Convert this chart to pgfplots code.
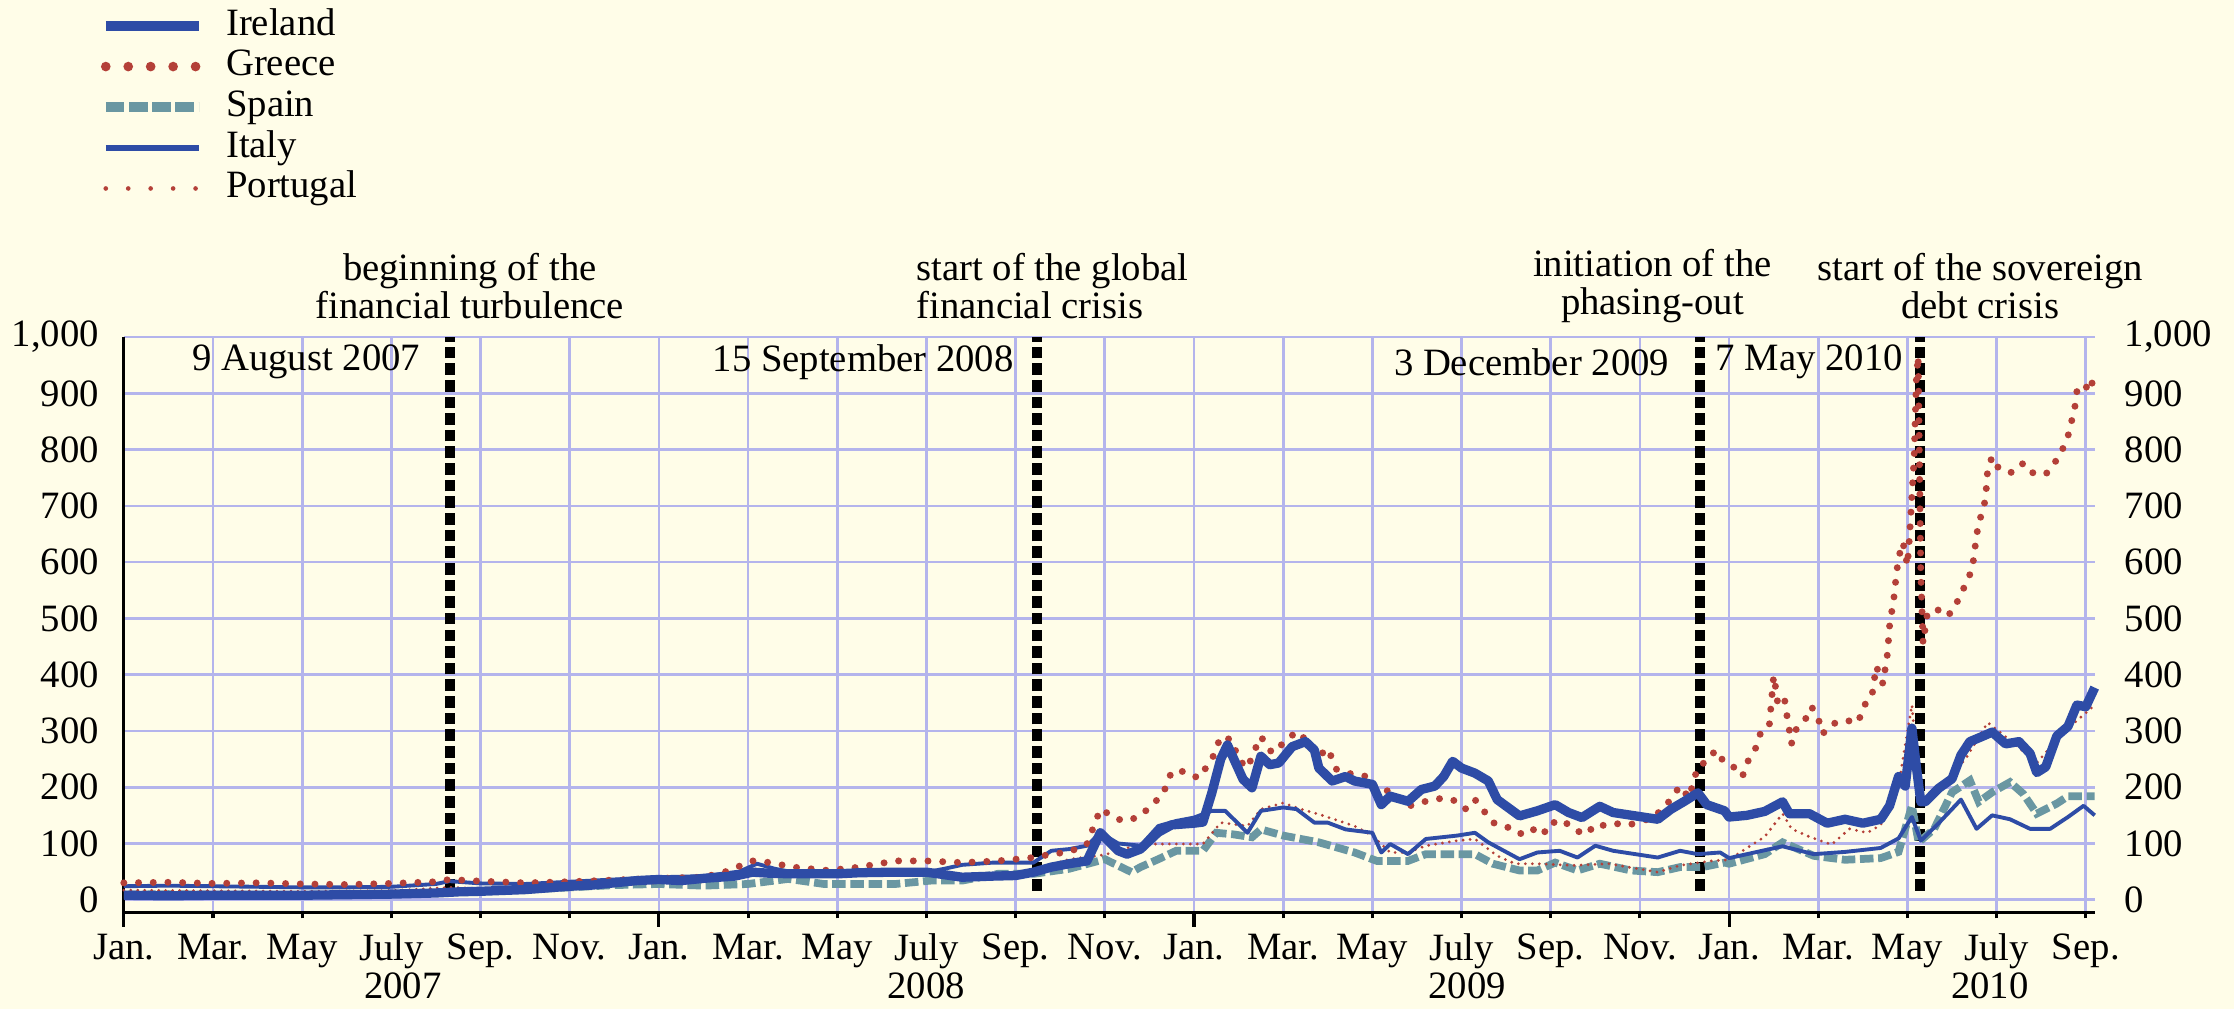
\documentclass[border=0pt]{standalone}
\usepackage{fontspec}
\setmainfont{Liberation Serif}
\usepackage{pgfplots}
\pgfplotsset{compat=1.18}
\definecolor{bgc}{RGB}{255,253,232}
\definecolor{gridc}{RGB}{180,180,236}
\definecolor{ireblue}{RGB}{46,76,166}
\definecolor{grered}{RGB}{180,64,56}
\definecolor{spateal}{RGB}{106,151,162}
\begin{document}
\begin{tikzpicture}
\fill[bgc] (0,0) rectangle (577.3pt,260.7pt);
\begin{axis}[
  at={(32pt,25pt)}, anchor=south west,
  scale only axis, width=509.3pt, height=148.6pt,
  xmin=0, xmax=44.2, ymin=-22, ymax=1000,
  clip=false,
  axis x line*=bottom, axis y line*=left,
  axis line style={black, line width=0.8pt, -},
  xtick={0,2,...,44},
  xticklabels={Jan.,Mar.,May,July,Sep.,Nov.,Jan.,Mar.,May,July,Sep.,Nov.,Jan.,Mar.,May,July,Sep.,Nov.,Jan.,Mar.,May,July,Sep.},
  extra x ticks={0,12,24,36},
  extra x tick labels={},
  extra x tick style={xmajorgrids=false, major tick length=3.8pt},
  xtick align=outside,
  major tick length=1.6pt,
  x tick style={black, line width=0.8pt},
  ytick={0,100,...,1000},
  y tick style={draw=none},
  grid=major,
  major grid style={gridc, line width=0.7pt},
  /pgf/number format/assume math mode=true,
  /pgf/number format/1000 sep={,},
  yticklabel style={xshift=-2.9pt},
  xticklabel style={yshift=-0.5pt},
  legend style={at={(axis description cs:-0.0121,1.572)}, anchor=north west, draw=none, fill=none, inner sep=0pt, row sep=1.7pt, column sep=5.8pt, nodes={inner sep=0pt, text height=6.8pt, text depth=2pt, anchor=west}},
  legend cell align=left,
  legend image code/.code={\draw[#1] (0pt,0pt) -- (24pt,0pt);},
]
\addlegendimage{ireblue, line width=2.6pt}
\addlegendentry{Ireland}
\addlegendimage{grered, line width=2.5pt, dash pattern=on 0pt off 5.8pt, line cap=round}
\addlegendentry{Greece}
\addlegendimage{spateal, line width=2.6pt, dash pattern=on 4.8pt off 1.2pt}
\addlegendentry{Spain}
\addlegendimage{ireblue, line width=1.4pt}
\addlegendentry{Italy}
\addlegendimage{grered, line width=1.2pt, dash pattern=on 0pt off 5.8pt, line cap=round}
\addlegendentry{Portugal}

% event lines
\addplot[forget plot, black, line width=2.6pt, dash pattern=on 3pt off 1.3pt] coordinates {(7.32,16) (7.32,1000)};
\addplot[forget plot, black, line width=2.6pt, dash pattern=on 3pt off 1.3pt] coordinates {(20.48,16) (20.48,1000)};
\addplot[forget plot, black, line width=2.6pt, dash pattern=on 3pt off 1.3pt] coordinates {(35.34,16) (35.34,1000)};
\addplot[forget plot, black, line width=2.6pt, dash pattern=on 3pt off 1.3pt] coordinates {(40.29,16) (40.29,1000)};

% Spain
\addplot[forget plot, spateal, line width=2pt, dash pattern=on 3.5pt off 1.2pt] coordinates {
(0,9) (1,10) (2,9) (3,9) (4,8) (5,9) (6,10) (7,12) (8,15) (9,18) (10,22) (11,26) (12,28) (13,25) (14,28) (14.9,37) (15.7,28) (17.3,28) (18.1,34) (18.8,34) (19.6,46) (20.4,46) (21.2,55) (22,72) (22.6,49) (22.8,58) (23.2,72) (23.6,87) (24.2,87) (24.5,119) (24.9,116) (25.3,111) (25.5,125) (26,114) (26.8,102) (27.6,84) (28.1,69) (28.8,69) (29.2,81) (29.9,81) (30.3,81) (30.7,64) (31.3,52) (31.7,52) (32.1,66) (32.6,52) (33.1,64) (33.8,52) (34.4,49) (34.9,58) (35.4,58) (35.9,66) (36.0,64) (36.8,81) (37.2,102) (37.9,78) (38.6,71) (39.4,74) (39.8,85) (40.1,167) (40.25,102) (40.6,126) (41.0,191) (41.4,212) (41.6,174) (41.9,191) (42.3,209) (42.6,188) (42.9,153) (43.35,171) (43.6,184) (44.2,184)};

% Portugal
\addplot[forget plot, grered, line width=0.8pt, dash pattern=on 0pt off 1.8pt, line cap=round] coordinates {
(0,17) (2,16) (4,15) (6,16) (7.3,22) (8,20) (10,22) (12,30) (13,32) (14.1,55) (15,45) (16,42) (17,45) (18,45) (19,44) (20,47) (20.4,52) (21.2,72) (22,80) (22.8,99) (23.5,99) (24.2,99) (24.6,137) (25.2,131) (25.5,161) (26.0,172) (26.4,161) (26.8,152) (27.6,131) (28.0,114) (28.4,84) (28.8,84) (29.2,96) (29.9,105) (30.3,108) (30.8,78) (31.2,64) (31.7,64) (32.5,61) (33.3,64) (34.4,49) (34.9,61) (35.6,69) (36.0,71) (36.4,92) (36.8,112) (37.2,153) (37.4,126) (37.8,112) (38.3,98) (38.7,126) (39.1,119) (39.4,133) (39.8,202) (40.1,346) (40.3,167) (40.7,195) (41.3,250) (41.8,315) (42.4,277) (42.9,243) (43.5,298) (44.0,332) (44.2,346)};

% Italy
\addplot[forget plot, ireblue, line width=1pt, line join=round] coordinates {
(0,24) (1,25) (2,24) (3,23) (4,22) (5,22) (6,23) (7,28) (7.3,33) (8,29) (9,28) (10,32) (11,36) (12,40) (13,42) (13.8,50) (14.2,64) (14.6,55) (15,49) (16,49) (17,49) (18,49) (18.4,55) (18.8,62) (19.5,66) (20.4,66) (20.8,87) (21.2,90) (21.6,96) (21.9,119) (22.3,100) (22.8,96) (23.2,131) (23.6,140) (24.0,146) (24.4,158) (24.7,158) (25.2,119) (25.5,158) (26.0,164) (26.3,161) (26.7,137) (27.0,137) (27.4,125) (28.0,119) (28.2,84) (28.4,99) (28.8,81) (29.2,108) (29.9,114) (30.3,119) (30.6,102) (31.3,72) (31.7,84) (32.2,87) (32.6,75) (33.0,96) (33.4,87) (34.4,75) (34.9,87) (35.3,81) (35.8,84) (36.0,74) (36.8,88) (37.2,95) (37.9,81) (38.6,85) (39.4,92) (39.8,109) (40.1,147) (40.3,105) (40.7,136) (41.2,178) (41.55,126) (41.9,150) (42.3,143) (42.75,126) (43.2,126) (43.6,147) (43.95,167) (44.2,150)};

% Greece
\addplot[forget plot, grered, line width=1.8pt, dash pattern=on 0pt off 3.8pt, line cap=round] coordinates {
(0,30) (1,31) (2,29) (3,30) (4,28) (5,27) (6,29) (7,32) (7.3,36) (8,33) (9,30) (10,32) (11,35) (12,38) (13,40) (13.5,50) (14.1,69) (14.5,66) (15,58) (15.8,52) (16.5,58) (17.3,69) (18,69) (18.8,66) (19.6,69) (20.4,75) (20.8,81) (21.2,85) (21.6,99) (21.9,161) (22.3,143) (22.5,140) (22.8,149) (23.1,172) (23.3,187) (23.5,228) (23.8,228) (24.1,216) (24.4,249) (24.6,290) (24.85,284) (25.0,249) (25.2,234) (25.35,264) (25.5,290) (25.75,261) (26.0,278) (26.3,299) (26.6,278) (26.8,255) (27.0,269) (27.2,231) (27.6,222) (27.9,219) (28.1,196) (28.4,193) (28.8,166) (29.2,175) (29.6,181) (29.9,175) (30.1,161) (30.3,178) (30.5,158) (30.7,137) (31.0,131) (31.2,119) (31.5,116) (31.7,131) (31.9,119) (32.1,140) (32.3,140) (32.5,125) (32.8,116) (33.0,134) (33.3,131) (33.6,137) (33.8,134) (34.3,146) (34.6,169) (34.9,202) (35.1,181) (35.3,237) (35.5,246) (35.7,266) (35.9,243) (36.1,236) (36.3,219) (36.4,243) (36.6,270) (36.7,295) (36.9,308) (37.0,398) (37.05,374) (37.1,343) (37.25,353) (37.3,326) (37.4,277) (37.45,298) (37.7,319) (37.85,343) (38.0,322) (38.1,295) (38.3,312) (38.6,319) (38.9,315) (39.0,343) (39.2,360) (39.3,415) (39.45,384) (39.55,436) (39.6,487) (39.7,539) (39.75,577) (39.8,608) (39.9,635) (40.0,594) (40.05,649) (40.15,787) (40.2,924) (40.24,966) (40.3,580) (40.35,456) (40.45,511) (40.7,515) (40.85,504) (41.0,511) (41.15,535) (41.3,560) (41.45,587) (41.5,615) (41.55,649) (41.65,683) (41.75,711) (41.8,766) (41.9,787) (42.05,766) (42.35,759) (42.6,776) (42.8,759) (43.1,756) (43.3,776) (43.5,804) (43.6,824) (43.75,873) (43.8,903) (43.95,917) (44.1,903) (44.2,941)};

% Ireland
\addplot[forget plot, ireblue, line width=2.4pt, line join=round] coordinates {
(0,8) (1,7) (2,8) (3,8) (4,8) (5,9) (6,10) (7,12) (7.5,14) (8,15) (9,18) (10,24) (10.5,26) (11,30) (11.5,34) (12,36) (12.5,34) (13,38) (13.7,42) (14.1,49) (14.5,47) (15,46) (16,46) (16.5,48) (17.3,49) (18,49) (18.8,40) (19.5,42) (20,43) (20.4,49) (20.8,58) (21.2,64) (21.6,69) (21.9,119) (22.3,87) (22.5,81) (22.8,90) (23.2,120) (23.5,133) (24.0,136) (24.2,138) (24.4,190) (24.6,250) (24.75,275) (24.9,249) (25.1,214) (25.3,199) (25.5,255) (25.7,240) (25.9,243) (26.2,272) (26.5,281) (26.7,266) (26.8,234) (27.1,211) (27.4,219) (27.6,211) (28.0,205) (28.2,169) (28.4,184) (28.8,175) (29.1,196) (29.4,202) (29.6,219) (29.8,246) (30.0,234) (30.3,225) (30.6,211) (30.8,178) (31.3,149) (31.7,158) (32.1,169) (32.4,155) (32.7,146) (33.1,166) (33.4,155) (33.9,149) (34.4,143) (34.7,161) (35.0,175) (35.3,190) (35.5,169) (35.9,158) (36.0,147) (36.4,150) (36.8,157) (37.2,174) (37.35,153) (37.8,153) (38.2,136) (38.6,143) (39.0,136) (39.4,143) (39.6,167) (39.8,219) (39.95,202) (40.1,305) (40.2,236) (40.3,174) (40.4,174) (40.7,198) (41.0,215) (41.2,257) (41.4,281) (41.7,291) (41.9,298) (42.2,277) (42.5,281) (42.75,260) (42.9,226) (43.1,236) (43.35,291) (43.6,308) (43.8,346) (44.0,343) (44.2,377)};

% annotations
\node[align=center, font=\fontsize{10}{9.8}\selectfont] at (axis cs:7.76,1090) {beginning of the\\financial turbulence};
\node[align=left, anchor=west, inner sep=0pt, font=\fontsize{10}{9.8}\selectfont] at (axis cs:17.76,1090) {start of the global\\financial crisis};
\node[align=center, font=\fontsize{10}{9.8}\selectfont] at (axis cs:34.28,1090) {initiation of the\\phasing-out};
\node[align=center, font=\fontsize{10}{9.8}\selectfont] at (axis cs:41.63,1090) {start of the sovereign\\debt crisis};
\node at (axis cs:4.09,956) {9 August 2007};
\node at (axis cs:16.58,956) {15 September 2008};
\node at (axis cs:31.57,956) {3 December 2009};
\node at (axis cs:37.8,956) {7 May 2010};
\node at ([yshift=-19.1pt]axis cs:6.26,-22) {2007};
\node at ([yshift=-19.1pt]axis cs:17.99,-22) {2008};
\node at ([yshift=-19.1pt]axis cs:30.13,-22) {2009};
\node at ([yshift=-19.1pt]axis cs:41.85,-22) {2010};
\end{axis}
\begin{axis}[
  at={(32pt,25pt)}, anchor=south west,
  scale only axis, width=509.3pt, height=148.6pt,
  xmin=0, xmax=44.2, ymin=-22, ymax=1000,
  axis x line=none, axis y line*=right,
  y axis line style={draw=none},
  ytick={0,100,...,1000},
  y tick style={draw=none},
  /pgf/number format/assume math mode=true,
  /pgf/number format/1000 sep={,},
  yticklabel style={xshift=4.2pt},
]
\addplot[draw=none] coordinates {(0,0) (44,0)};
\end{axis}
\pgfresetboundingbox
\useasboundingbox (0,0) rectangle (577.3pt,260.7pt);
\end{tikzpicture}
\end{document}
